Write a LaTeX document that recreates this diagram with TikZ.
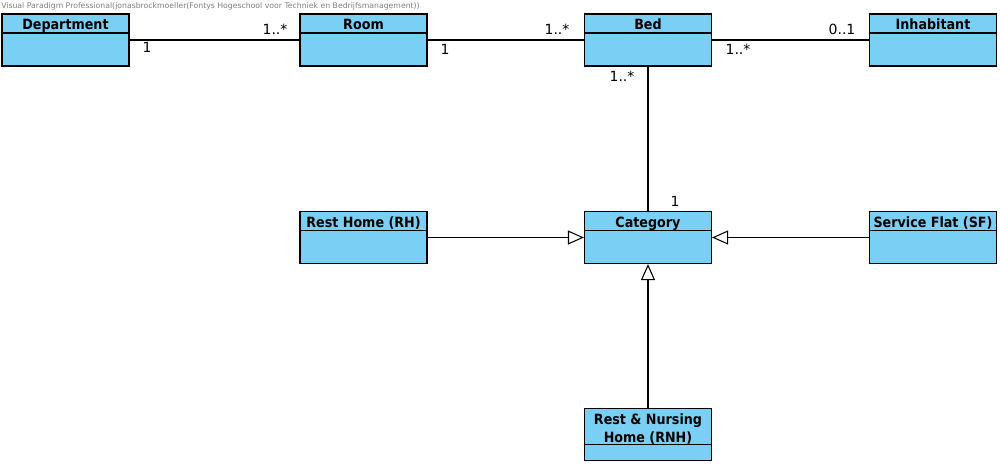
\documentclass[tikz,border=0pt]{standalone}
\usepackage{fontspec}
\setmainfont{DejaVu Sans}
\newfontfamily\titlefont{DejaVu Sans Condensed}
\usetikzlibrary{arrows.meta}
\definecolor{classfill}{RGB}{122,207,245}
\tikzset{cls/.style={draw,fill=classfill,line width=0.85pt,minimum width=95.25pt,minimum height=39pt,inner sep=0pt,
    path picture={\draw[line width=0.85pt] (path picture bounding box.north west) ++(0,#1) -- ++(140,0);}}}
\tikzset{cls/.default=19}
\tikzset{title/.style={anchor=north,inner sep=4.1pt,align=center,font=\titlefont\bfseries\fontsize{10.6}{13.5}\selectfont}}
\tikzset{mult/.style={inner sep=0pt,font=\fontsize{10.5}{12}\selectfont}}
\tikzset{assoc/.style={line width=0.9pt}}
\tikzset{inherit/.style={line width=0.9pt,-{Triangle[open,length=12pt,width=10.5pt,line width=0.8pt]}}}

\begin{document}
\begin{tikzpicture}[x=0.75pt,y=-0.75pt]
	    \useasboundingbox (0,0) rectangle (1001,465);
	    \node[anchor=north west,inner sep=0pt,text=gray,font=\fontsize{5.8}{7}\selectfont] (vp) at (1,2) {Visual Paradigm Professional(jonasbrockmoeller(Fontys Hogeschool voor Techniek en Bedrijfsmanagement))};
	    \node[cls,label={[title]north:Department}] (dep) at (65.5,40) {};
	    \node[cls,label={[title]north:Room}] (room) at (363.5,40) {};
	    \node[cls,label={[title]north:Bed}] (bed) at (648,40) {};
	    \node[cls,label={[title]north:Inhabitant}] (inh) at (933,40) {};
	    \node[cls,label={[title]north:Rest Home (RH)}] (rh) at (363.5,237.5) {};
	    \node[cls,label={[title]north:Category}] (cat) at (648,237.5) {};
	    \node[cls,label={[title]north:Service Flat (SF)}] (sf) at (933,237.5) {};
	    \node[cls=36,label={[title]north:Rest \& Nursing\\Home (RNH)}] (rnh) at (648,434.5) {};
	    \draw[assoc] (dep) -- (room);
	    \draw[assoc] (room) -- (bed);
	    \draw[assoc] (bed) -- (inh);
	    \draw[assoc] (bed) -- (cat);
	    \draw[inherit] (rh) -- (cat);
	    \draw[inherit] (sf) -- (cat);
	    \draw[inherit] (rnh) -- (cat);
	    \node[mult] at (147,47) {1};
	    \node[mult] at (275,29) {1..*};
	    \node[mult] at (445,49) {1};
	    \node[mult] at (557,29) {1..*};
	    \node[mult] at (738,49) {1..*};
	    \node[mult] at (842,29) {0..1};
	    \node[mult] at (622,76) {1..*};
	    \node[mult] at (675,201) {1};
        \end{tikzpicture}
\end{document}
